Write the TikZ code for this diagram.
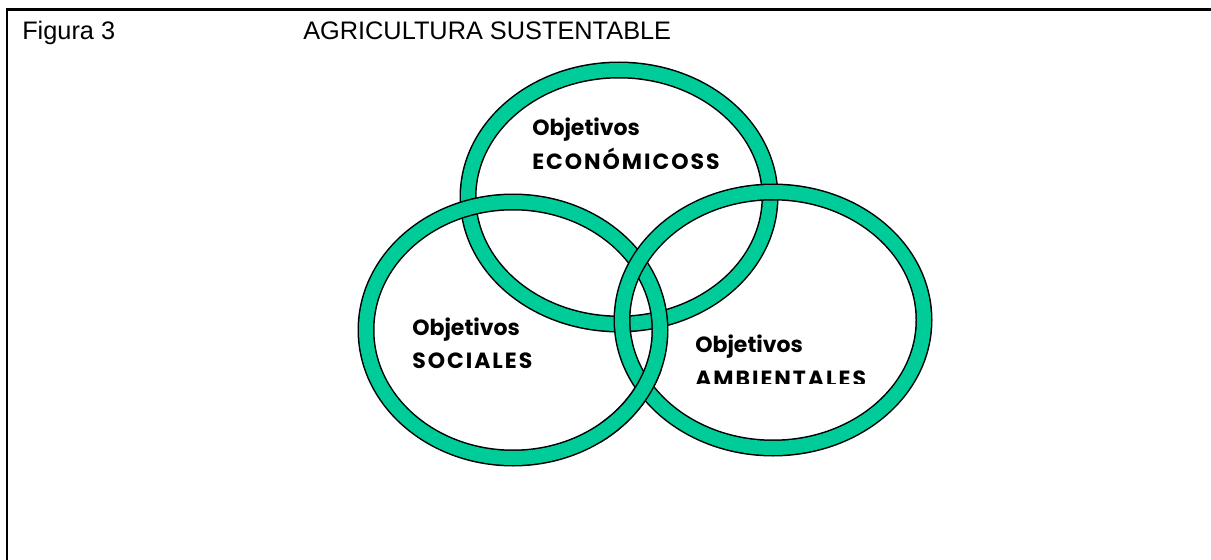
\documentclass[tikz,border=0pt]{standalone}
\usepackage{fontspec}
\setmainfont{Liberation Sans}
\newfontfamily\rotfont{Poppins}
\newfontfamily\rotfontmay{Poppins}[LetterSpace=9]
\usetikzlibrary{positioning}

\definecolor{verdeanillo}{RGB}{0,204,153}

\tikzset{
  contorno/.style={black,line width=12.75pt},
  relleno/.style={verdeanillo,line width=10.5pt},
  titulo/.style={anchor=base west,inner sep=0pt,font=\fontsize{19}{22}\selectfont},
  rotulo/.style={anchor=base west,inner sep=0pt,font=\rotfont\bfseries\fontsize{16.5}{19}\selectfont},
  rotulomay/.style={rotulo,font=\rotfontmay\bfseries\fontsize{16.5}{19}\selectfont}
}

% un anillo: contorno negro y banda verde encima
\newcommand\anillo[3]{%
  \draw[contorno] (#1) ellipse [x radius=#2, y radius=#3];
  \draw[relleno] (#1) ellipse [x radius=#2, y radius=#3];}

\begin{document}
\begin{tikzpicture}[x=0.75pt,y=-0.75pt]
 \useasboundingbox (0,0) rectangle (1211,560);
 \fill[white] (0,0) rectangle (1211,560);

 % marco
 \draw[line width=2.25pt] (6,9.5) -- (1211,9.5);
 \draw[line width=1.5pt] (7,9.5) -- (7,560);

 \node[titulo] (fig) at (22,40) {Figura 3};
 \node[titulo] (tit) at (303,40) {AGRICULTURA SUSTENTABLE};

 % centros de los anillos
 \coordinate (eco) at (619,197);
 \coordinate (soc) at (513,330);
 \coordinate (amb) at (773,320);

 \anillo{eco}{151}{127}
 \anillo{soc}{147}{128}
 \anillo{amb}{151}{128}
 % cruce inferior: social por encima
 \begin{scope}
  \clip (600,370) rectangle (700,470);
  \anillo{soc}{147}{128}
 \end{scope}

 % textos
 \node[rotulo] (eco1) at (532,136) {Objetivos};
 \begin{scope}
  \clip (520,140) rectangle (740,168);
  \node[rotulomay] (eco2) at (532,170) {ECONÓMICOSS};
 \end{scope}
 \node[rotulo] (soc1) at (412,335) {Objetivos};
 \begin{scope}
  \clip (400,340) rectangle (560,368);
  \node[rotulomay] (soc2) at (412,368) {SOCIALES};
 \end{scope}
 \node[rotulo] (amb1) at (695,352) {Objetivos};
 \begin{scope}
  \clip (685,358) rectangle (890,383);
  \node[rotulomay] (amb2) at (695,386) {AMBIENTALES};
 \end{scope}
\end{tikzpicture}
\end{document}
